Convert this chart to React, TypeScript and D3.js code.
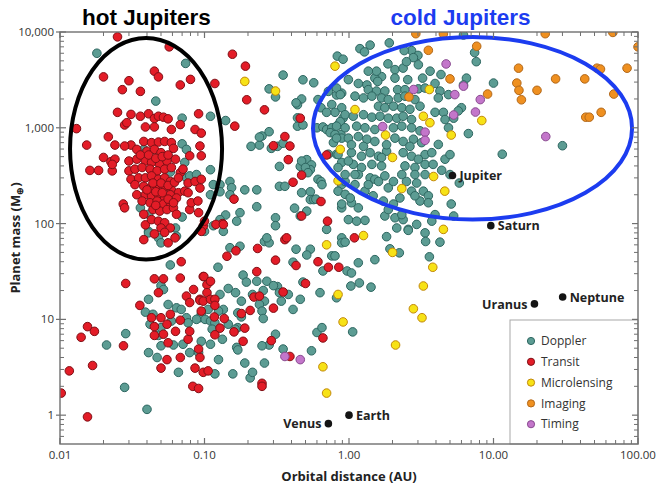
import React from 'react';
import * as d3 from 'd3';

type P = [number, number];

// [orbital distance (AU), planet mass (Earth masses)]
const doppler: P[] = [
  [0.018,6000],[0.074,4700],[0.046,1900],[0.070,1260],[0.070,680],[0.075,595],[0.038,595],[0.039,550],[0.073,435],[0.075,300],
  [0.079,315],[0.088,325],[0.058,345],[0.070,117],[0.036,146],[0.041,125],[0.063,90],[0.041,83],
  [0.11,1320],[0.14,1190],[0.11,365],[0.115,255],[0.128,255],[0.15,275],[0.154,237],[0.15,200],[0.19,225],[0.23,225],[0.128,215],
  [0.11,200],[0.176,130],[0.23,150],[0.14,123],[0.128,110],[0.167,106],[0.115,95],
  [0.35,3550],[0.48,3170],[0.57,2950],[0.28,2550],[0.31,2100],[0.47,2000],[0.44,1740],[0.44,1040],[0.48,1070],[0.25,820],
  [0.21,640],[0.24,660],[0.32,640],[0.35,690],[0.33,395],[0.46,395],[0.51,465],[0.55,410],[0.54,365],[0.61,290],[0.64,275],
  [0.33,245],[0.36,245],[0.42,145],[0.54,215],[0.54,178],[0.57,178],[0.31,115],[0.31,95],
  [0.43,1820],[0.44,1270],[0.83,5600],[0.24,800],[0.28,910],[0.29,610],[0.47,450],[0.50,385],[0.52,340],[0.47,210],[0.59,180],
  [0.51,135],[0.46,120],[0.70,87],[0.89,146],[0.89,255],[0.88,850],[0.65,255],
  [0.61,1970],[0.64,1620],[0.60,1000],[0.66,1020],[0.70,960],[0.76,1000],[0.84,1070],[0.74,890],[0.80,850],[0.89,780],
  [0.78,700],[0.72,530],[0.82,530],[0.89,435],[0.76,1750],[0.82,2200],[0.89,2300],[0.82,2600],[0.72,2400],[0.89,1620],
  [0.80,1450],[0.70,1450],[0.91,1260],[0.87,1160],
  [1.40,7300],[1.19,6700],[1.28,6200],[1.90,7700],[2.71,6400],[2.41,6400],[3.0,5700],[2.79,5400],[6.2,9300],[7.4,6100],
  [7.6,4900],[6.5,3300],[6.2,2800],[0.91,5200],
  [1.86,4650],[2.08,4050],[2.37,4200],[3.64,3900],[4.33,3600],[3.23,3300],[2.08,3300],[2.55,3180],[1.68,3420],[1.51,3300],
  [1.58,3050],[0.99,3180],[1.16,2900],[1.33,2800],[0.87,2220],
  [1.36,2500],[1.55,2420],[1.77,2420],[2.17,2500],[2.44,2500],[3.02,2550],[3.36,2600],[4.26,2420],[4.88,2220],[4.15,2050],
  [1.10,2140],[1.26,2050],[1.44,2140],[1.68,2050],[1.87,1970],[2.19,2050],[2.44,2140],[2.86,1970],[3.10,1680],[1.6,1680],
  [1.77,1620],[2.03,1680],[2.32,1620],[2.64,1560],
  [0.94,1370],[1.07,1320],[1.26,1370],[1.44,1290],[1.64,1320],[1.87,1260],[2.14,1260],[2.37,1320],[2.71,1220],[3.94,1450],[4.5,1450],
  [0.82,1040],[0.94,1000],[1.13,1040],[1.29,1000],[1.51,960],[2.03,1000],[2.32,1040],[2.71,1000],[3.10,930],
  [0.99,780],[1.16,810],[1.33,760],[1.51,720],[2.08,780],[2.37,720],[2.79,760],[3.18,700],
  [0.84,525],[1.04,550],[1.22,505],[1.40,550],[1.6,505],[1.82,570],[2.37,550],[2.71,505],[3.36,525],[3.74,550],
  [1.07,415],[1.22,385],[1.44,415],[1.68,400],[2.44,400],[2.86,385],[3.36,415],
  [1.16,325],[1.40,300],[1.77,315],[2.86,325],[3.36,325],
  [0.84,218],[0.94,202],[1.29,218],[1.87,236],[2.71,218],[3.27,218],[3.54,195],
  [0.89,160],[1.04,165],[1.73,172],[2.03,160],[3.10,172],[3.54,165],
  [5.1,160],[5.3,120],[5.8,265],[5.0,325],
  [0.99,110],[1.13,106],[1.29,108],[1.77,120],[2.08,115],[2.37,110],
  [2.14,90],[2.57,87],[3.36,80],[6.7,870],
  [2.32,325],[2.03,275],[1.36,255],[1.51,290],[0.94,275],[0.99,450],[0.84,385],[0.94,325],
  [4.62,470],[5.0,525],[4.15,670],[3.82,415],[4.38,360],[4.88,1000],[4.62,1220],[5.3,1260],[6.0,1620],[5.7,1500],
  [0.82,780],[1.04,665],[1.26,640],[1.82,665],[2.64,640],[1.68,490],[3.02,470],[1.10,325],[1.6,275],[2.5,275],
  [2.94,265],[1.10,255],[1.02,185],[1.47,195],[2.25,185],[2.86,195],[1.16,146],[1.87,140],[3.94,124],[2.32,124],
  [3.74,106],[2.94,98],[3.02,4550],[2.5,4900],[1.55,3900],[1.36,3900],[3.94,2900],
  [10.0,2930],[11.5,530],[30,650],
  [0.041,80],[0.048,71],[0.05,63],[0.064,74],[0.058,37],[0.041,16.2],[0.05,22.5],[0.052,20.5],[0.056,14.3],[0.064,13.2],
  [0.069,12.7],[0.039,11.9],[0.044,11.3],[0.075,10.4],[0.077,9.2],[0.059,9.6],[0.05,8.2],[0.042,8.9],[0.048,6.8],[0.05,5.3],
  [0.061,5.4],[0.071,5.5],[0.095,5.9],[0.091,4.5],[0.041,4.5],[0.047,4.0],[0.066,2.8],[0.079,4.5],[0.0285,7.1],[0.021,5.4],
  [0.028,1.95],[0.04,1.15],
  [0.10,83],[0.135,83],[0.15,56],[0.176,58],[0.26,65],[0.28,63],[0.27,71],[0.43,54],[0.54,54],[0.51,47],[0.41,39.5],
  [0.66,32],[0.76,46],[0.89,71],[0.89,63],[0.124,35],
  [0.185,29],[0.195,24.5],[0.23,25],[0.27,25],[0.255,20],[0.32,22],
  [0.146,21],[0.164,19],[0.128,18.2],[0.18,15.5],[0.215,18.2],[0.26,15.5],[0.24,14.3],[0.34,15.5],[0.38,18.2],[0.46,16.2],
  [0.41,12.7],[0.48,24.5],[0.63,19],[0.30,22.5],[0.33,19],
  [0.25,12.2],[0.255,10.2],[0.18,10.6],[0.17,11.7],[0.17,8.2],[0.163,7.9],[0.146,8.9],[0.135,12.7],[0.125,12.2],
  [0.106,12.7],[0.095,11.3],[0.093,10.4],[0.101,10],[0.11,9.6],[0.118,9.2],[0.088,10],[0.113,7.9],[0.133,6.2],[0.11,5.5],
  [0.28,5.4],[0.25,5.3],[0.167,5.1],[0.17,4.8],[0.125,3.8],[0.19,3.5],[0.26,3.5],[0.157,2.7],[0.118,2.7],[0.207,2.45],[0.215,2.8],
  [0.35,4.9],[0.55,4.7],[0.6,7.3],[0.65,8.2],[0.31,7.0],
  [0.94,64],[0.8,46],[0.97,32],[1.04,30.5],[1.16,39],[1.03,22.3],[1.18,24],[1.42,21.7],[1.51,42],[1.82,73],[1.92,54.5],
  [2.23,49.5],[2.57,85],[3.39,65],[4.26,64],[3.6,45],[0.82,16.8],[1.06,7.4]
];

const transit: P[] = [
  [0.025,8900],[0.057,7000],[0.020,3400],[0.030,3100],[0.045,3900],[0.048,3400],[0.027,2500],[0.036,2400],[0.068,2800],[0.080,3200],
  [0.025,1450],[0.031,1380],[0.028,1070],[0.029,1130],[0.013,980],[0.0153,660],[0.0216,805],[0.0161,359],[0.0185,359],[0.020,490],
  [0.024,660],[0.031,660],[0.0225,443],[0.023,355],[0.0274,160],[0.028,146],[0.038,125],[0.039,97],[0.036,1320],[0.041,1400],
  [0.045,1250],[0.048,1320],[0.052,1290],[0.056,1240],[0.039,1020],[0.045,1020],[0.059,960],[0.068,1080],[0.086,960],[0.091,1400],
  [0.095,880],[0.038,720],[0.043,700],[0.048,710],[0.053,720],[0.059,700],[0.028,645],[0.034,595],[0.040,570],[0.045,595],
  [0.050,550],[0.061,610],[0.079,510],[0.093,645],[0.095,510],[0.024,470],[0.030,450],[0.034,470],[0.039,450],[0.043,435],
  [0.049,415],[0.055,450],[0.063,470],[0.023,415],[0.030,355],[0.033,370],[0.037,385],[0.042,370],[0.047,355],[0.053,370],
  [0.059,385],[0.068,340],[0.077,265],[0.086,275],[0.093,235],[0.031,290],[0.035,300],[0.039,300],[0.043,315],[0.048,290],
  [0.053,300],[0.058,275],[0.033,255],[0.038,245],[0.042,235],[0.047,245],[0.052,235],[0.059,225],[0.066,210],[0.073,218],
  [0.034,200],[0.039,200],[0.043,195],[0.048,200],[0.053,185],[0.058,200],[0.064,185],[0.037,172],[0.042,165],[0.047,172],
  [0.052,160],[0.058,165],[0.044,140],[0.049,135],[0.055,140],[0.061,146],[0.064,125],[0.043,110],[0.048,106],[0.053,102],
  [0.050,90],[0.058,90],[0.079,140],[0.091,130],[0.081,165],[0.090,172],[0.095,290],[0.077,210],[0.071,370],
  [0.036,520],[0.041,520],[0.046,480],[0.051,500],[0.056,520],[0.044,265],[0.050,265],[0.056,250],[0.040,225],[0.046,215],
  [0.051,210],[0.056,180],[0.061,165],[0.046,155],[0.062,270],[0.066,300],
  [0.118,2900],[0.156,5860],[0.192,4400],[0.196,1960],[0.162,1040],[0.26,1540],[0.30,650],[0.36,810],[0.38,465],[0.41,270],
  [0.47,320],[0.46,1260],[0.64,170],[0.47,120],[0.39,645],[0.16,180],[0.133,100],[0.098,94],[0.10,106],[0.12,98],[0.135,98],
  [0.71,106],[0.70,520],
  [0.038,68],[0.045,78],[0.056,63],[0.0625,71],[0.053,81],[0.069,40],[0.0285,23.7],[0.045,26.5],[0.052,26.5],[0.068,27],
  [0.048,19],[0.0357,14],[0.098,28],[0.084,20.5],[0.075,17.5],[0.079,15],[0.093,16.2],[0.095,12.2],[0.043,10.4],[0.05,10.4],
  [0.058,11.3],[0.068,9.8],[0.045,8.4],[0.055,8.9],[0.063,7.5],[0.045,6.8],[0.052,7.0],[0.056,5.7],[0.077,6.2],[0.079,7.5],
  [0.055,3.8],[0.068,4.0],[0.091,4.9],[0.093,4.0],[0.050,3.1],[0.086,3.1],[0.098,2.8],[0.083,2.0],[0.091,1.9],[0.0155,8.4],
  [0.0173,7.5],[0.014,6.5],[0.0275,5.3],[0.0168,3.3],[0.0116,2.9],[0.0102,1.7],[0.0155,0.96],
  [0.095,83],[0.143,45.6],[0.165,52],[0.233,55],[0.36,68],[0.37,71],[0.31,41.5],[0.43,36.5],[0.61,40],[0.72,35],[0.85,35],
  [0.23,31.5],[0.50,23.7],[0.35,19.3],[0.22,17.1],[0.24,17.5],[0.30,13.1],[0.207,12.4],[0.18,11.5],[0.19,8.1],[0.16,7.4],
  [0.185,5.9],[0.137,10.2],[0.128,8.1],[0.118,6.9],[0.117,10.6],[0.099,28],[0.104,23],[0.104,19],[0.11,25],[0.093,15.8],
  [0.098,15.5],[0.11,16.2],[0.118,16.2],[0.118,14.0],[0.29,6.0],[0.66,6.4],[0.39,4.1],[0.106,2.9],[0.25,2.15],[0.25,2.0],
  [1.09,71]
];

const microlensing: P[] = [
  [0.19,3050],[0.31,2420],[0.80,4400],[0.87,595],[0.84,280],[3.6,2510],[1.10,1550],[3.27,1320],[3.63,1130],[5.1,840],
  [1.79,840],[2.0,490],[3.85,310],[2.32,232],[4.6,218],[8.3,1190],[4.5,87],[1.26,75],
  [0.70,60],[0.84,18.2],[0.91,9.4],[0.66,3.2],[0.70,1.7],[2.0,50],[3.8,35],[3.27,22.3],[2.79,12.9],[3.2,10.4],[2.1,5.4]
];

const imaging: P[] = [
  [2.9,9600],[4.5,9560],[7.65,7100],[3.54,6440],[5.0,3240],[2.6,2100],[22.8,9600],[67,9900],[100,7000],[14.9,4190],
  [26.9,3240],[42.8,3240],[52,4190],[55,4100],[84,4190],[14.5,2930],[15.0,2460],[15.6,1960],[20,2460],[9.1,2250],
  [68,2250],[43.5,1290],[46,1290],[55.6,1450]
];

const timing: P[] = [
  [4.7,4640],[6.2,2720],[5.4,2220],[8.1,1970],[7.5,1460],[5.3,1360],[2.8,2510],[1.71,1030],[3.36,900],[3.36,740],
  [23,810],[0.36,4.1],[0.46,3.8]
];

const planetNames = ['Venus', 'Earth', 'Jupiter', 'Saturn', 'Uranus', 'Neptune'];
const planetA = [0.72, 1.0, 5.2, 9.58, 19.2, 30.1];
const planetM = [0.815, 1.0, 318, 95.2, 14.5, 17.1];
const planetLabelLeft = [true, false, false, false, true, false];

const xTickValues = [0.01, 0.1, 1, 10, 100];
const xTickLabels = ['0.01', '0.10', '1.00', '10.00', '100.00'];
const yTickValues = [1, 10, 100, 1000, 10000];
const yTickLabels = ['1', '10', '100', '1,000', '10,000'];

const legendLabels = ['Doppler', 'Transit', 'Microlensing', 'Imaging', 'Timing'];
const seriesFill = ['#5c9c93', '#e31c27', '#f7e216', '#ef9020', '#c376ca'];
const seriesStroke = ['#2d6660', '#7f1016', '#c2880a', '#b2681a', '#894a90'];

// annotation ellipses: center (AU, Earth masses) and half-extent in decades
const hotCenter: P = [0.0394, 604];
const hotHalfDecades: P = [0.526, 1.156];
const coldCenter: P = [7.16, 988];
const coldHalfDecades: P = [1.104, 0.953];

const W = 658;
const H = 485;
const L = 60, R = 638, T = 32, B = 444;

export default function App() {
  const x = d3.scaleLog().domain([0.01, 100]).range([L, R]);
  const y = d3.scaleLog().domain([0.5, 10000]).range([B, T]);
  const series = [doppler, transit, microlensing, imaging, timing];

  const xMinor = x.ticks().filter(v => !xTickValues.some(t => Math.abs(t - v) / t < 1e-6));
  const yMinor = y.ticks().filter(v => !yTickValues.some(t => Math.abs(t - v) / t < 1e-6) && v > 0.5);

  const ell = (c: P, h: P) => {
    const cx = x(c[0]);
    const cy = y(c[1]);
    const rx = x(c[0] * Math.pow(10, h[0])) - cx;
    const ry = cy - y(c[1] * Math.pow(10, h[1]));
    return { cx, cy, rx, ry };
  };
  const hot = ell(hotCenter, hotHalfDecades);
  const cold = ell(coldCenter, coldHalfDecades);

  const axisColor = '#707070';
  const tickFont = 'Open Sans, sans-serif';

  return (
    <svg width={W} height={H} style={{ position: 'fixed', left: 0, top: 0, background: '#fff' }}
      xmlns="http://www.w3.org/2000/svg">
      <defs>
        <clipPath id="plot">
          <rect x={L} y={T} width={R - L} height={B - T} />
        </clipPath>
      </defs>
      <rect x={0} y={0} width={W} height={H} fill="#fff" />

      <g clipPath="url(#plot)">
        {series.map((pts, si) => (
          <g key={si}>
            {pts.map((p, i) => (
              <circle key={i} cx={x(p[0])} cy={y(p[1])} r={4.3}
                fill={seriesFill[si]} stroke={seriesStroke[si]} strokeWidth={1} />
            ))}
          </g>
        ))}
      </g>

      <ellipse cx={hot.cx} cy={hot.cy} rx={hot.rx} ry={hot.ry} fill="none" stroke="#000" strokeWidth={4} />
      <ellipse cx={cold.cx} cy={cold.cy} rx={cold.rx} ry={cold.ry} fill="none" stroke="#1c3cf0" strokeWidth={4} />

      {planetNames.map((n, i) => {
        const px = x(planetA[i]);
        const py = y(planetM[i]);
        const left = planetLabelLeft[i];
        return (
          <g key={n}>
            <circle cx={px} cy={py} r={3.8} fill="#141414" />
            <text x={left ? px - 7 : px + 7} y={py + 4.6} textAnchor={left ? 'end' : 'start'}
              fontFamily="Open Sans, sans-serif" fontWeight="bold" fontSize={12.5} fill="#222">{n}</text>
          </g>
        );
      })}

      {/* legend */}
      <rect x={510} y={320} width={R - 510} height={B - 320} fill="#fff" stroke="#a8a8a8" strokeWidth={1} />
      {legendLabels.map((lab, i) => (
        <g key={lab}>
          <circle cx={531} cy={341 + i * 20.8} r={3.6} fill={seriesFill[i]} stroke={seriesStroke[i]} strokeWidth={1} />
          <text x={541} y={341 + i * 20.8 + 4.2} fontFamily={tickFont} fontSize={12} fill="#333">{lab}</text>
        </g>
      ))}

      {/* frame */}
      <rect x={L} y={T} width={R - L} height={B - T} fill="none" stroke={axisColor} strokeWidth={1.4} />

      {/* x ticks bottom & top */}
      {xTickValues.map((v, i) => (
        <g key={'xt' + i}>
          <line x1={x(v)} x2={x(v)} y1={B} y2={B - 6} stroke={axisColor} strokeWidth={1.2} />
          <line x1={x(v)} x2={x(v)} y1={T} y2={T + 6} stroke={axisColor} strokeWidth={1.2} />
          <text x={x(v)} y={B + 15} textAnchor="middle" fontFamily={tickFont} fontSize={11.5} fill="#333">{xTickLabels[i]}</text>
        </g>
      ))}
      {xMinor.map((v, i) => (
        <g key={'xm' + i}>
          <line x1={x(v)} x2={x(v)} y1={B} y2={B - 4} stroke={axisColor} strokeWidth={1} />
          <line x1={x(v)} x2={x(v)} y1={T} y2={T + 4} stroke={axisColor} strokeWidth={1} />
        </g>
      ))}

      {/* y ticks left & right */}
      {yTickValues.map((v, i) => (
        <g key={'yt' + i}>
          <line x1={L - 4} x2={L + 6} y1={y(v)} y2={y(v)} stroke={axisColor} strokeWidth={1.2} />
          <line x1={R} x2={R - 6} y1={y(v)} y2={y(v)} stroke={axisColor} strokeWidth={1.2} />
          <text x={L - 6} y={y(v) + 4} textAnchor="end" fontFamily={tickFont} fontSize={11.5} fill="#333">{yTickLabels[i]}</text>
        </g>
      ))}
      {yMinor.map((v, i) => (
        <g key={'ym' + i}>
          <line x1={L} x2={L + 4} y1={y(v)} y2={y(v)} stroke={axisColor} strokeWidth={1} />
          <line x1={R} x2={R - 4} y1={y(v)} y2={y(v)} stroke={axisColor} strokeWidth={1} />
        </g>
      ))}

      {/* axis titles */}
      <text x={(L + R) / 2} y={480.5} textAnchor="middle" fontFamily="Open Sans, sans-serif" fontWeight="bold"
        fontSize={13} fill="#222">Orbital distance (AU)</text>
      <text transform={`translate(19.5, 238) rotate(-90)`} textAnchor="middle" fontFamily="Open Sans, sans-serif"
        fontWeight="bold" fontSize={13} fill="#222">
        Planet mass (M<tspan fontSize={9} dy={3}>⊕</tspan><tspan dy={-3}>)</tspan>
      </text>

      {/* headings */}
      <text x={82} y={25} fontFamily="Liberation Sans, Arial, sans-serif" fontWeight="bold" fontSize={22.5} fill="#000">hot Jupiters</text>
      <text x={390.5} y={25} fontFamily="Liberation Sans, Arial, sans-serif" fontWeight="bold" fontSize={22.5} fill="#1c3cf0">cold Jupiters</text>
    </svg>
  );
}
